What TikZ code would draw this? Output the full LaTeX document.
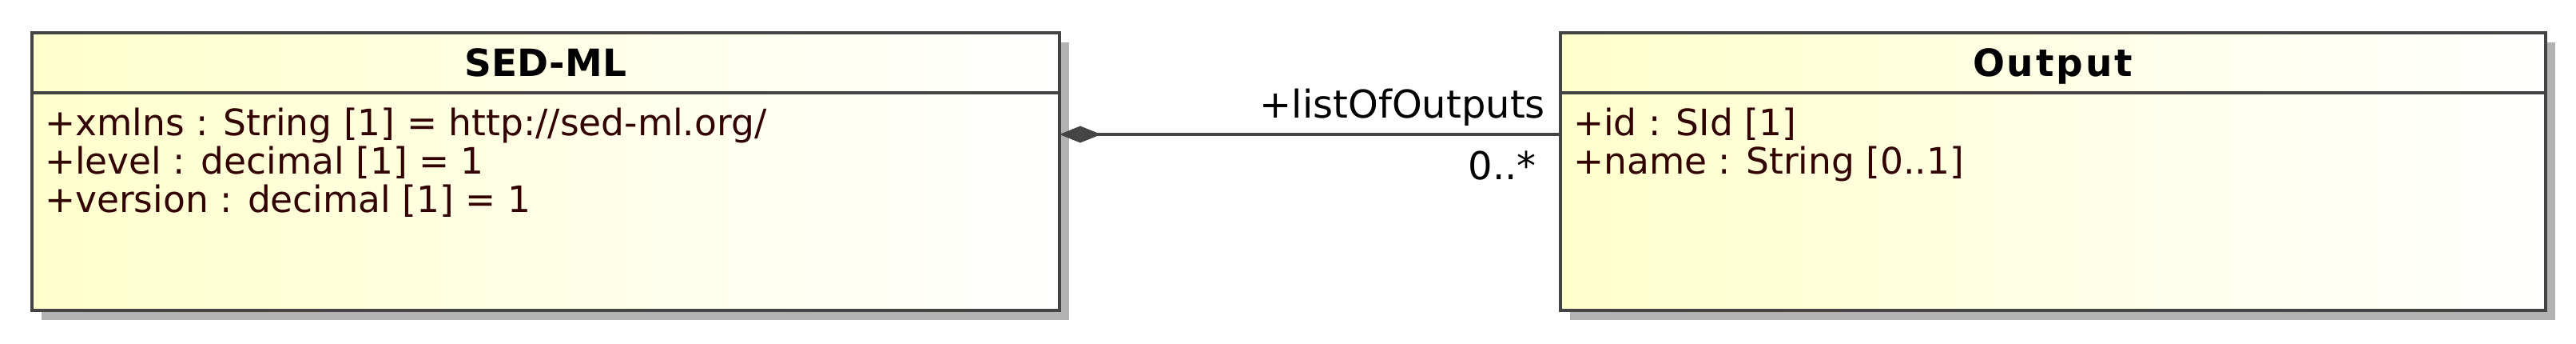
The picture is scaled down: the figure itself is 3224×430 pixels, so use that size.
\documentclass[tikz,border=0pt]{standalone}
\usepackage{fontspec}
\setmainfont{DejaVu Sans}
\usetikzlibrary{arrows.meta,shadows,calc}
\definecolor{umlyellow}{RGB}{255,255,204}
\definecolor{umlline}{RGB}{68,68,68}
\definecolor{umlshadow}{RGB}{178,178,178}
\definecolor{attrcol}{RGB}{51,0,0}
\begin{document}
\begin{tikzpicture}[x=1pt,y=-1pt,
 classbox/.style={draw=umlline, line width=4pt, left color=umlyellow, right color=white,
   inner sep=0pt, outer sep=0pt, anchor=north west,
   drop shadow={shadow xshift=12pt, shadow yshift=-12pt, fill=umlshadow, opacity=1}},
 classtitle/.style={font=\fontsize{47}{56}\selectfont\bfseries, anchor=base, inner sep=0pt},
 attr/.style={font=\fontsize{45.5}{54}\selectfont, text=attrcol, anchor=base west, inner sep=0pt},
 lbl/.style={font=\fontsize{48}{57}\selectfont, anchor=base east, inner sep=0pt},
 sepline/.style={draw=umlline, line width=4pt},
 assoc/.style={draw=umlline, line width=4pt}]
\useasboundingbox[fill=white] (0,0) rectangle (3224,430);
% classes
\node[classbox, minimum width=1286pt, minimum height=347pt] (sed) at (40,41) {};
\node[classbox, minimum width=1233pt, minimum height=347pt] (out) at (1953,41) {};
\coordinate (hsep) at (0,116);
\draw[sepline] (sed.west |- hsep) -- (sed.east |- hsep);
\draw[sepline] (out.west |- hsep) -- (out.east |- hsep);
% titles
\node[classtitle] (sedT) at (683,96) {SED-ML};
\node[classtitle] (outT) at (2569,96) {\addfontfeatures{LetterSpace=6}Output};
% attributes
\node[attr] (a1) at (56,170) {+xmlns : String [1] = http://sed-ml.org/};
\node[attr] (a2) at (56,218) {+level : decimal [1] = 1};
\node[attr] (a3) at (56,266) {+version : decimal [1] = 1};
\node[attr] (b1) at (1969,170) {+id : SId [1]};
\node[attr] (b2) at (1969,218) {+name : String [0..1]};
% association
\coordinate (ly) at (0,168);
\draw[assoc, {Diamond[length=52pt,width=21pt,fill=umlline]}-] (sed.east |- ly) -- (out.west |- ly);
\node[lbl] (role) at (1934,148) {+listOfOutputs};
\node[lbl] (mult) at (1923,225) {0..*};
\end{tikzpicture}
\end{document}
